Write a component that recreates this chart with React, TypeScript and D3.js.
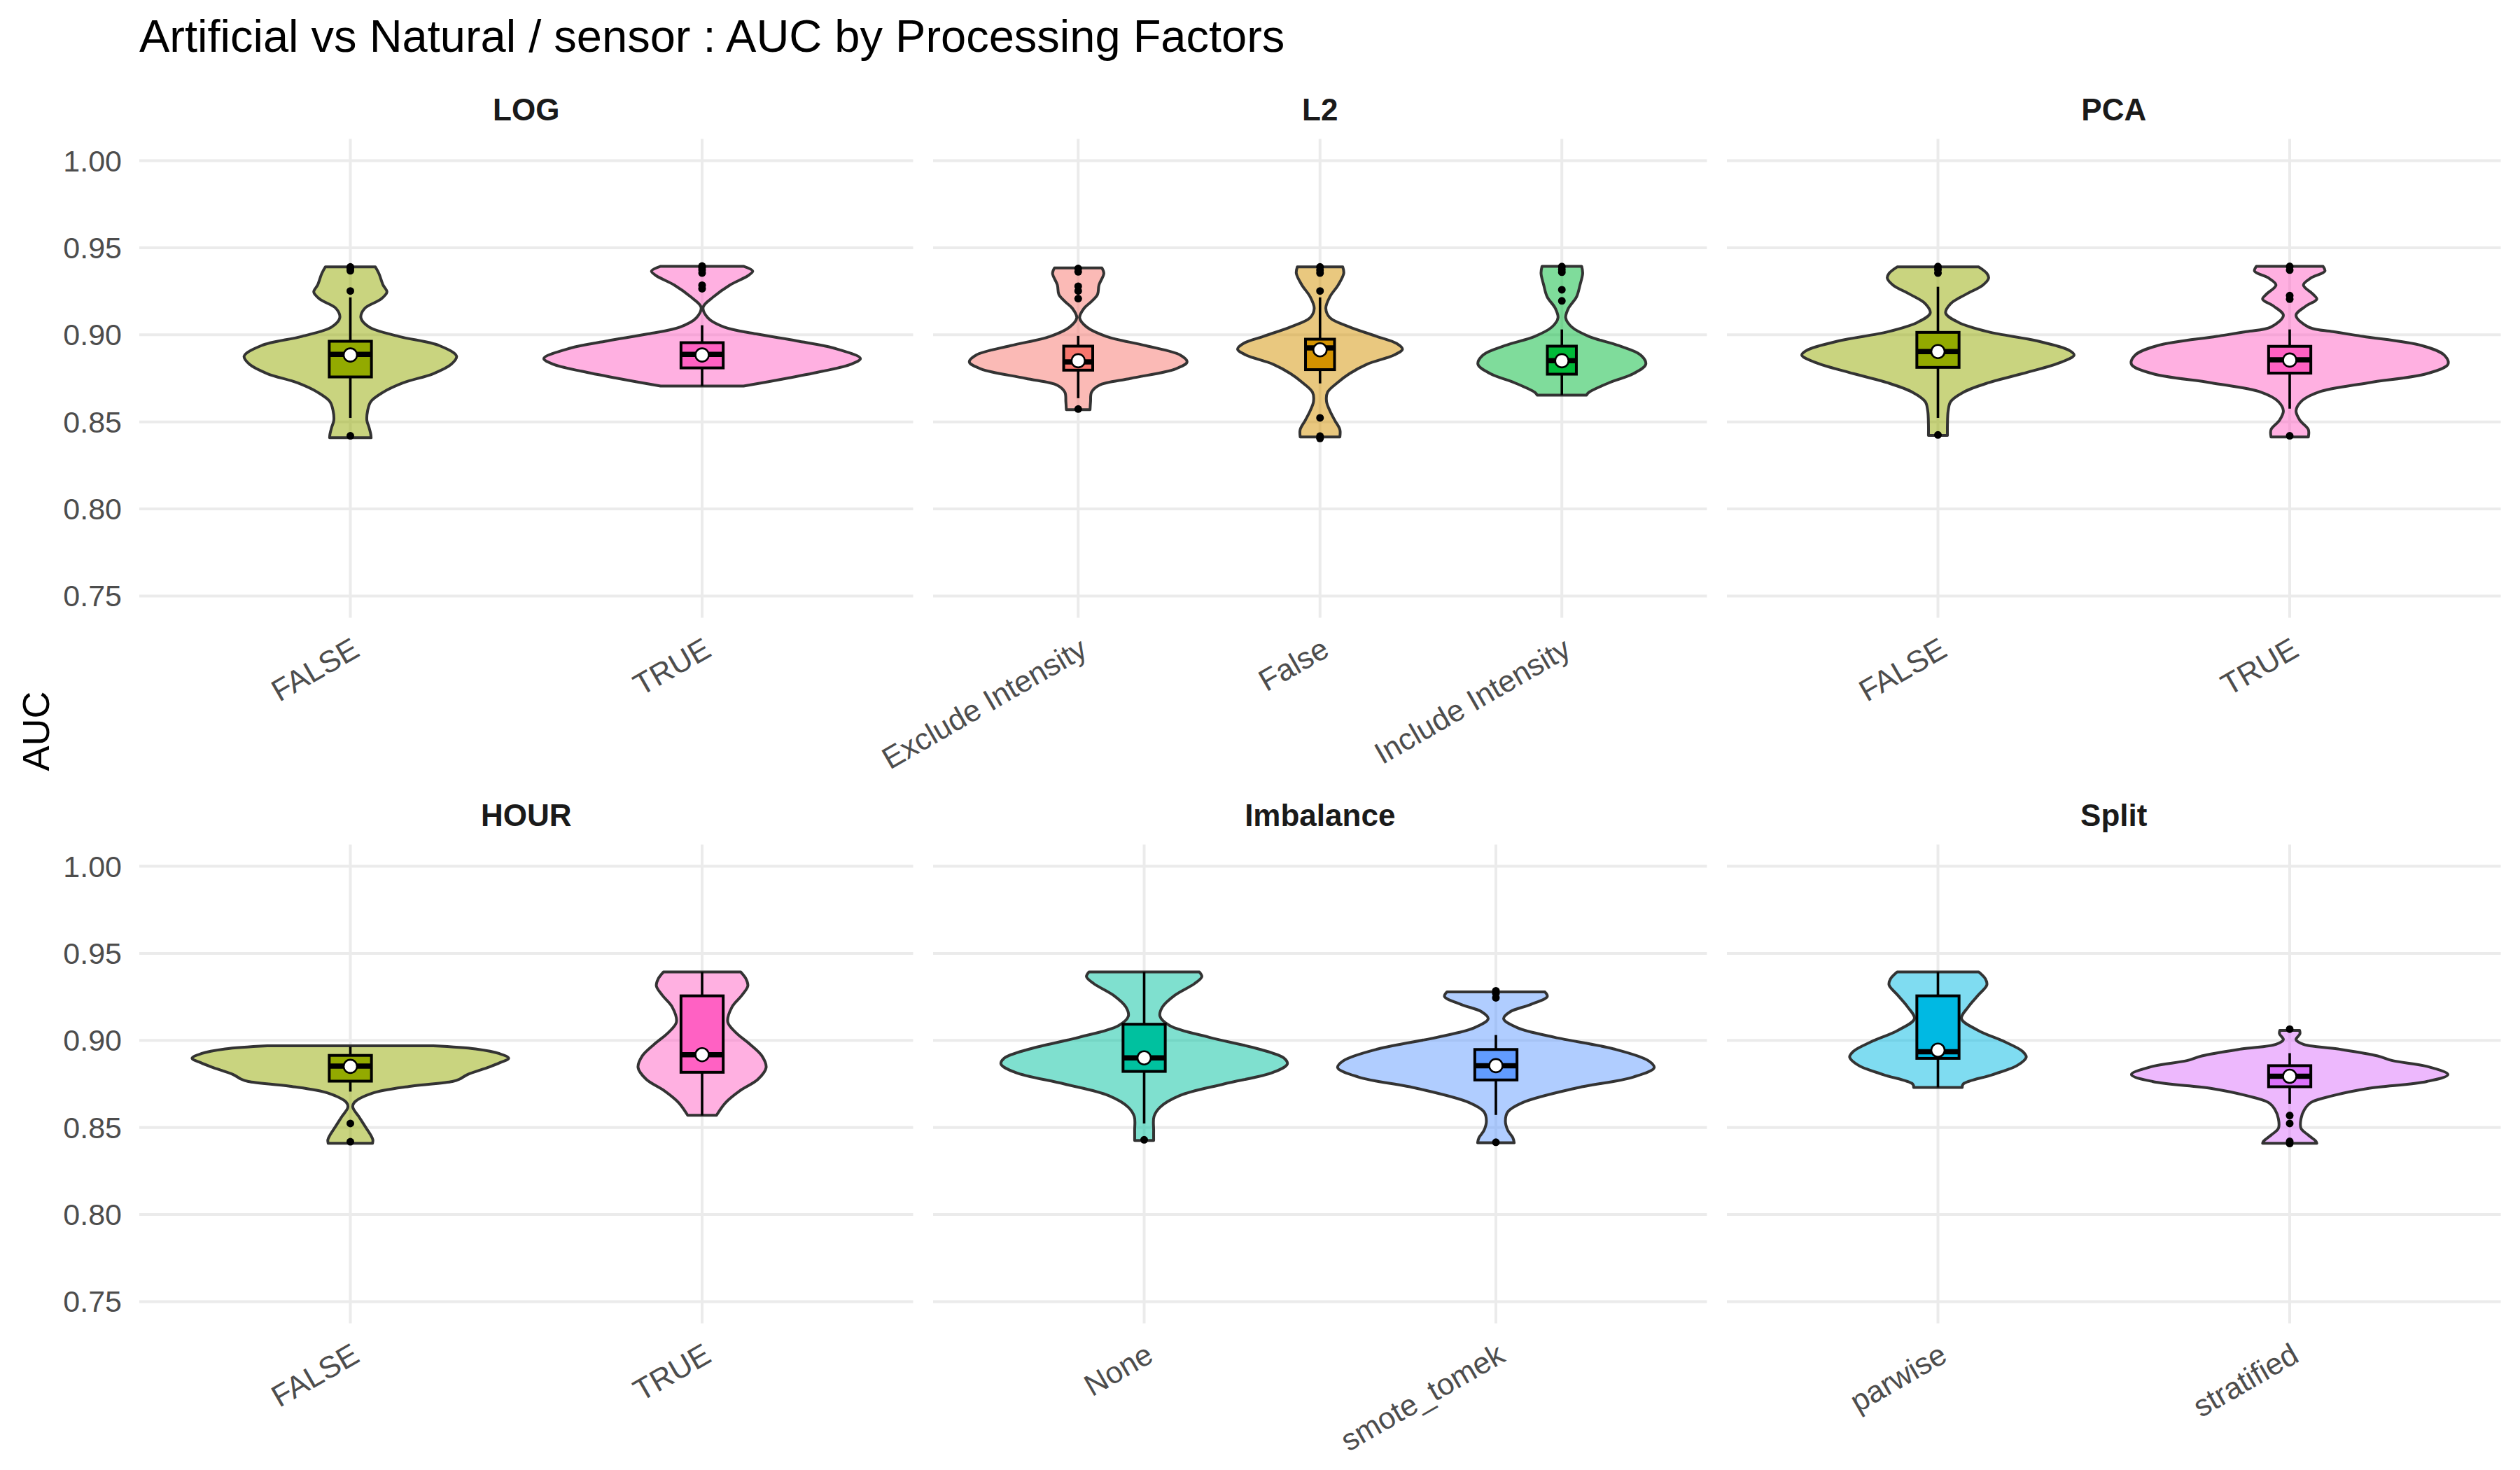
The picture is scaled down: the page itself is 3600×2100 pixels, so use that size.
import React from "react";
import * as d3 from "d3";

const width = 3600;
const height = 2100;
const margin = { top: 198.5, left: 199, right: 29 };
const panelW = 1105.5;
const panelH = 684;
const colGap = 28.5;
const rowGap = 324;
const font = "'Liberation Sans', Arial, Helvetica, sans-serif";

const chartTitle = "Artificial vs Natural / sensor : AUC by Processing Factors";
const yTitle = "AUC";
const yTicks = [0.75, 0.8, 0.85, 0.9, 0.95, 1.0];
const yLimits = [0.75, 1.0];

const facetNames = ["LOG", "L2", "PCA", "HOUR", "Imbalance", "Split"];
const facetLevels = [
  ["FALSE", "TRUE"],
  ["Exclude Intensity", "False", "Include Intensity"],
  ["FALSE", "TRUE"],
  ["FALSE", "TRUE"],
  ["None", "smote_tomek"],
  ["parwise", "stratified"],
];

// ggplot hue palette over all fill levels
const fillLevels = ["Exclude Intensity", "False", "FALSE", "Include Intensity", "None", "parwise", "smote_tomek", "stratified", "TRUE"];
const fillColors = ["#F8766D", "#D39200", "#93AA00", "#00BA38", "#00C19F", "#00B9E3", "#619CFF", "#DB72FB", "#FF61C3"];

// violin outlines: [AUC, half width in category steps], top to bottom
const violinLogFalse = [[0.939, 0.071], [0.9353, 0.081], [0.9286, 0.093], [0.9246, 0.104], [0.9205, 0.087], [0.9152, 0.041], [0.9098, 0.03], [0.9045, 0.053], [0.8991, 0.138], [0.8938, 0.253], [0.8877, 0.302], [0.8831, 0.287], [0.8777, 0.236], [0.8724, 0.15], [0.867, 0.093], [0.8616, 0.058], [0.8563, 0.049], [0.8509, 0.047], [0.8469, 0.053], [0.8429, 0.058], [0.8409, 0.059]];
const violinLogTrue = [[0.9393, 0.119], [0.9366, 0.144], [0.9339, 0.13], [0.9286, 0.079], [0.9219, 0.033], [0.9159, 0.003], [0.9098, 0.016], [0.9045, 0.062], [0.9005, 0.154], [0.8965, 0.269], [0.8924, 0.374], [0.8864, 0.45], [0.8831, 0.423], [0.8791, 0.343], [0.875, 0.24], [0.8706, 0.118]];
const violinL2Exclude = [[0.9384, 0.098], [0.9353, 0.106], [0.9286, 0.086], [0.9232, 0.08], [0.9192, 0.055], [0.9152, 0.024], [0.9098, 0.006], [0.9045, 0.035], [0.8991, 0.116], [0.8938, 0.279], [0.8884, 0.422], [0.8844, 0.45], [0.8804, 0.402], [0.875, 0.218], [0.871, 0.086], [0.867, 0.055], [0.8616, 0.051], [0.857, 0.049]];
const violinL2False = [[0.939, 0.094], [0.9353, 0.098], [0.9286, 0.075], [0.9219, 0.041], [0.9152, 0.024], [0.9098, 0.041], [0.9045, 0.122], [0.8991, 0.235], [0.8951, 0.316], [0.8918, 0.341], [0.8884, 0.306], [0.8831, 0.194], [0.8777, 0.122], [0.8724, 0.071], [0.867, 0.031], [0.8616, 0.027], [0.8563, 0.041], [0.8509, 0.061], [0.8456, 0.082], [0.8413, 0.082]];
const violinL2Include = [[0.9393, 0.082], [0.9353, 0.086], [0.9286, 0.075], [0.9219, 0.061], [0.9152, 0.027], [0.9098, 0.016], [0.9045, 0.041], [0.8991, 0.112], [0.8938, 0.235], [0.8884, 0.326], [0.8831, 0.347], [0.8777, 0.296], [0.8724, 0.194], [0.867, 0.112], [0.8654, 0.102]];
const violinPcaFalse = [[0.939, 0.116], [0.9353, 0.139], [0.9326, 0.144], [0.9286, 0.128], [0.9232, 0.079], [0.9179, 0.036], [0.9125, 0.022], [0.9072, 0.058], [0.9018, 0.142], [0.8965, 0.282], [0.8911, 0.373], [0.8884, 0.387], [0.8844, 0.352], [0.8777, 0.24], [0.8724, 0.142], [0.867, 0.072], [0.8616, 0.036], [0.8563, 0.029], [0.8483, 0.027], [0.8422, 0.027]];
const violinPcaTrue = [[0.9393, 0.095], [0.9366, 0.1], [0.9326, 0.06], [0.9286, 0.039], [0.9232, 0.067], [0.9205, 0.077], [0.9165, 0.046], [0.9112, 0.018], [0.9045, 0.053], [0.9018, 0.123], [0.8991, 0.208], [0.8938, 0.376], [0.8884, 0.439], [0.8831, 0.45], [0.8777, 0.39], [0.8724, 0.222], [0.867, 0.081], [0.8616, 0.032], [0.8563, 0.018], [0.8509, 0.029], [0.8456, 0.053], [0.8413, 0.053]];
const violinHourFalse = [[0.8969, 0.236], [0.8951, 0.356], [0.8924, 0.424], [0.8898, 0.45], [0.8871, 0.424], [0.8844, 0.39], [0.8804, 0.333], [0.8777, 0.31], [0.8764, 0.29], [0.8737, 0.172], [0.8697, 0.063], [0.8643, 0.011], [0.8616, 0.007], [0.8563, 0.024], [0.8509, 0.041], [0.8456, 0.058], [0.8429, 0.064], [0.8409, 0.063]];
const violinHourTrue = [[0.9393, 0.11], [0.9353, 0.125], [0.9313, 0.13], [0.9259, 0.113], [0.9192, 0.085], [0.9105, 0.073], [0.9045, 0.096], [0.8978, 0.136], [0.8911, 0.17], [0.8844, 0.182], [0.8777, 0.159], [0.871, 0.107], [0.8643, 0.067], [0.857, 0.041]];
const violinImbNone = [[0.9393, 0.157], [0.9366, 0.164], [0.9326, 0.143], [0.9259, 0.087], [0.9192, 0.052], [0.9139, 0.045], [0.9085, 0.073], [0.9018, 0.185], [0.8951, 0.325], [0.8898, 0.398], [0.8864, 0.407], [0.8817, 0.367], [0.875, 0.227], [0.8683, 0.101], [0.8616, 0.045], [0.8563, 0.028], [0.8483, 0.027], [0.8425, 0.027]];
const violinImbSmote = [[0.9279, 0.139], [0.9252, 0.146], [0.9205, 0.097], [0.9165, 0.041], [0.9125, 0.022], [0.9072, 0.062], [0.9018, 0.167], [0.8951, 0.335], [0.8884, 0.433], [0.8844, 0.45], [0.879, 0.391], [0.8724, 0.223], [0.8643, 0.076], [0.859, 0.034], [0.8536, 0.027], [0.8483, 0.034], [0.8442, 0.048], [0.8412, 0.052]];
const violinSplitPar = [[0.9393, 0.116], [0.9353, 0.135], [0.9319, 0.139], [0.9259, 0.114], [0.9192, 0.086], [0.9125, 0.067], [0.9058, 0.114], [0.8991, 0.191], [0.8938, 0.24], [0.8904, 0.251], [0.8857, 0.226], [0.8804, 0.156], [0.875, 0.072], [0.873, 0.069]];
const violinSplitStrat = [[0.9058, 0.028], [0.9038, 0.029], [0.9005, 0.018], [0.8978, 0.039], [0.8951, 0.137], [0.8911, 0.25], [0.8884, 0.292], [0.8851, 0.39], [0.8804, 0.45], [0.8764, 0.39], [0.8724, 0.222], [0.8683, 0.123], [0.8643, 0.06], [0.8603, 0.042], [0.8549, 0.032], [0.8496, 0.032], [0.8456, 0.053], [0.8422, 0.074], [0.8409, 0.077]];

// box stats: [lower whisker, q1, median, q3, upper whisker]
const boxLogFalse = [0.8523, 0.8758, 0.8888, 0.8963, 0.9215];
const boxLogTrue = [0.8706, 0.881, 0.8888, 0.8955, 0.9055];
const boxL2Exclude = [0.8636, 0.8797, 0.8844, 0.8935, 0.8994];
const boxL2False = [0.8721, 0.88, 0.8925, 0.8975, 0.9215];
const boxL2Include = [0.8654, 0.8774, 0.8852, 0.8935, 0.9031];
const boxPcaFalse = [0.8523, 0.8813, 0.8904, 0.9014, 0.9276];
const boxPcaTrue = [0.8576, 0.878, 0.8857, 0.8934, 0.9031];
const boxHourFalse = [0.8706, 0.8766, 0.8853, 0.8914, 0.8964];
const boxHourTrue = [0.8569, 0.8817, 0.8918, 0.9256, 0.9393];
const boxImbNone = [0.8523, 0.8822, 0.89, 0.9093, 0.9393];
const boxImbSmote = [0.8572, 0.8773, 0.8855, 0.8948, 0.9031];
const boxSplitPar = [0.873, 0.8897, 0.8935, 0.9256, 0.9393];
const boxSplitStrat = [0.8636, 0.8734, 0.8794, 0.8855, 0.8927];

const meanLog = [0.8884, 0.8884];
const meanL2 = [0.8851, 0.8914, 0.8851];
const meanPca = [0.8904, 0.8855];
const meanHour = [0.8851, 0.8918];
const meanImb = [0.89, 0.8855];
const meanSplit = [0.8944, 0.8794];

const outLogFalse = [0.939, 0.938, 0.9368, 0.9252, 0.842];
const outLogTrue = [0.9395, 0.9385, 0.9372, 0.9355, 0.9285, 0.9265];
const outL2Exclude = [0.9381, 0.9362, 0.9279, 0.9252, 0.9208, 0.8574];
const outL2False = [0.939, 0.9372, 0.9355, 0.9252, 0.8523, 0.8418, 0.8405];
const outL2Include = [0.9392, 0.9375, 0.936, 0.9259, 0.9195];
const outPcaFalse = [0.9392, 0.9375, 0.9355, 0.8425];
const outPcaTrue = [0.9393, 0.9372, 0.9225, 0.9205, 0.842];
const outHourFalse = [0.8523, 0.8418];
const outHourTrue: number[] = [];
const outImbNone = [0.8429];
const outImbSmote = [0.9285, 0.927, 0.9245, 0.8415];
const outSplitPar: number[] = [];
const outSplitStrat = [0.9065, 0.8569, 0.8523, 0.842, 0.8408];

const facetViolins = [
  [violinLogFalse, violinLogTrue],
  [violinL2Exclude, violinL2False, violinL2Include],
  [violinPcaFalse, violinPcaTrue],
  [violinHourFalse, violinHourTrue],
  [violinImbNone, violinImbSmote],
  [violinSplitPar, violinSplitStrat],
];
const facetBoxes = [
  [boxLogFalse, boxLogTrue],
  [boxL2Exclude, boxL2False, boxL2Include],
  [boxPcaFalse, boxPcaTrue],
  [boxHourFalse, boxHourTrue],
  [boxImbNone, boxImbSmote],
  [boxSplitPar, boxSplitStrat],
];
const facetMeans = [meanLog, meanL2, meanPca, meanHour, meanImb, meanSplit];
const facetOutliers = [
  [outLogFalse, outLogTrue],
  [outL2Exclude, outL2False, outL2Include],
  [outPcaFalse, outPcaTrue],
  [outHourFalse, outHourTrue],
  [outImbNone, outImbSmote],
  [outSplitPar, outSplitStrat],
];

const colour = d3.scaleOrdinal<string, string>().domain(fillLevels).range(fillColors);

function violinPath(profile: number[][], cx: number, step: number, y: d3.ScaleLinear<number, number>) {
  const right = d3.line<number[]>().x(d => cx + d[1] * step).y(d => y(d[0])).curve(d3.curveCatmullRom.alpha(0.5));
  const left = d3.line<number[]>().x(d => cx - d[1] * step).y(d => y(d[0])).curve(d3.curveCatmullRom.alpha(0.5));
  const r = right(profile) || "";
  const l = left([...profile].reverse()) || "";
  return r + "L" + l.slice(1) + "Z";
}

function Panel({ idx }: { idx: number }) {
  const col = idx % 3;
  const row = Math.floor(idx / 3);
  const x0 = margin.left + col * (panelW + colGap);
  const y0 = margin.top + row * (panelH + rowGap);
  const levels = facetLevels[idx];

  const x = d3.scalePoint<string>().domain(levels).range([x0, x0 + panelW]).padding(0.6);
  const step = x.step();
  const pad = (yLimits[1] - yLimits[0]) * 0.05;
  const y = d3.scaleLinear().domain([yLimits[0] - pad, yLimits[1] + pad]).range([y0 + panelH, y0]);
  const boxHalf = step * 0.06;

  return (
    <g>
      {yTicks.map(t => (
        <line key={"h" + t} x1={x0} x2={x0 + panelW} y1={y(t)} y2={y(t)} stroke="#EBEBEB" strokeWidth={4} />
      ))}
      {levels.map(l => (
        <line key={"v" + l} x1={x(l)} x2={x(l)} y1={y0} y2={y0 + panelH} stroke="#EBEBEB" strokeWidth={4} />
      ))}
      {col === 0 && yTicks.map(t => (
        <text key={"yt" + t} x={x0 - 25} y={y(t)} dy="0.35em" textAnchor="end" fontSize={43} fill="#4D4D4D" fontFamily={font}>
          {t.toFixed(2)}
        </text>
      ))}
      <text x={x0 + panelW / 2} y={y0 - 26.5} textAnchor="middle" fontSize={44} fontWeight="bold" fill="#1A1A1A" fontFamily={font}>
        {facetNames[idx]}
      </text>
      {levels.map((l, i) => (
        <path key={"vi" + l} d={violinPath(facetViolins[idx][i], x(l) as number, step, y)}
          fill={colour(l)} fillOpacity={0.5} stroke="#333333" strokeWidth={4} strokeLinejoin="round" />
      ))}
      {levels.map((l, i) => {
        const b = facetBoxes[idx][i];
        const cx = x(l) as number;
        return (
          <g key={"bx" + l}>
            <line x1={cx} x2={cx} y1={y(b[3])} y2={y(b[4])} stroke="#000" strokeWidth={3.6} />
            <line x1={cx} x2={cx} y1={y(b[1])} y2={y(b[0])} stroke="#000" strokeWidth={3.6} />
            <rect x={cx - boxHalf} width={boxHalf * 2} y={y(b[3])} height={y(b[1]) - y(b[3])}
              fill={colour(l)} stroke="#000" strokeWidth={4} />
            <line x1={cx - boxHalf} x2={cx + boxHalf} y1={y(b[2])} y2={y(b[2])} stroke="#000" strokeWidth={7.5} />
            {facetOutliers[idx][i].map((o, k) => (
              <circle key={k} cx={cx} cy={y(o)} r={5.5} fill="#000" />
            ))}
            <circle cx={cx} cy={y(facetMeans[idx][i])} r={9.5} fill="#fff" stroke="#000" strokeWidth={2.6} />
          </g>
        );
      })}
      {levels.map(l => (
        <text key={"xt" + l} transform={`translate(${x(l) as number},${y0 + panelH + 26}) rotate(-30)`}
          dy="0.72em" textAnchor="end" fontSize={43.5} fill="#4D4D4D" fontFamily={font}>
          {l}
        </text>
      ))}
    </g>
  );
}

export default function App() {
  return (
    <svg width={width} height={height} style={{ position: "absolute", left: 0, top: 0, background: "#fff" }}>
      <rect width={width} height={height} fill="#fff" />
      <text x={margin.left} y={74} fontSize={65} fill="#000" fontFamily={font}>{chartTitle}</text>
      <text transform={`translate(70,${margin.top + panelH + rowGap / 2}) rotate(-90)`} textAnchor="middle"
        fontSize={54} fill="#000" fontFamily={font}>{yTitle}</text>
      {facetNames.map((f, i) => <Panel key={f} idx={i} />)}
    </svg>
  );
}
